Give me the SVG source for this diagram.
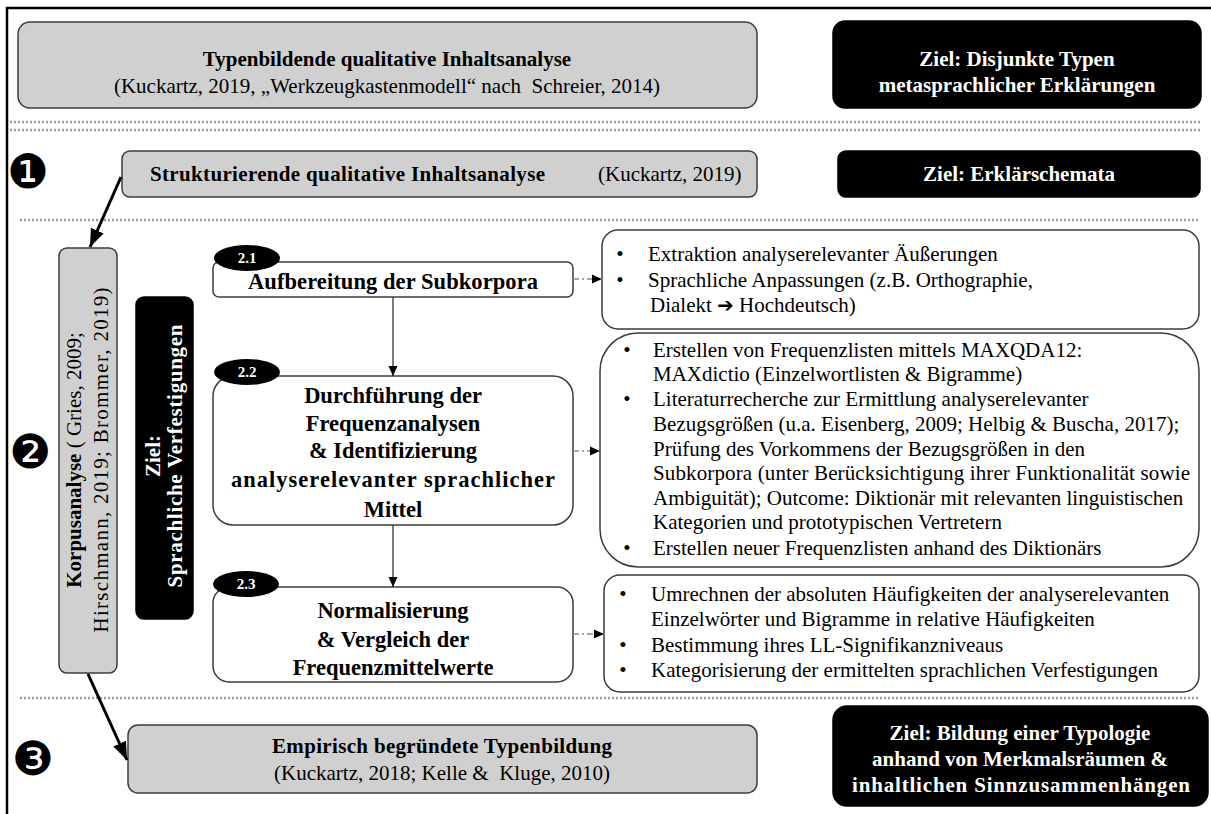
<svg xmlns="http://www.w3.org/2000/svg" width="1211" height="814" viewBox="0 0 1211 814">
  <defs>
    <style>
      .t { font-family: "Liberation Serif", "Times New Roman", serif; font-size: 21px; fill: #000; }
      .h { font-size: 22.5px; }
      .b { font-weight: bold; }
      .w { fill: #fff; }
      .c { text-anchor: middle; }
      .grey { fill: #d0d0d0; stroke: #3c3c3c; stroke-width: 1.5; }
      .dark { fill: #000; stroke: #000; stroke-width: 1.5; }
      .plain { fill: #fff; stroke: #3c3c3c; stroke-width: 1.5; }
      .sep { stroke: #9a9a9a; stroke-width: 2.5; stroke-dasharray: 2 2; fill: none; }
      .num { font-family: "DejaVu Sans", sans-serif; font-size: 47px; fill: #000; text-anchor: middle; }
      .tag { font-family: "Liberation Serif", serif; font-size: 15px; font-weight: bold; fill: #fff; text-anchor: middle; }
      .flow { stroke: #000; stroke-width: 3; fill: none; }
      .step { stroke: #333; stroke-width: 1.3; fill: none; }
      .link { stroke: #8a8a8a; stroke-width: 1.3; stroke-dasharray: 6 3 2 3; fill: none; }
    </style>
    <marker id="headBig" markerUnits="userSpaceOnUse" markerWidth="20" markerHeight="14" refX="18" refY="7" orient="auto">
      <path d="M0,0 L18,7 L0,14 Z" fill="#000"/>
    </marker>
    <marker id="headSmall" markerUnits="userSpaceOnUse" markerWidth="12" markerHeight="10" refX="10" refY="5" orient="auto">
      <path d="M0,0.5 L10,5 L0,9.5 Z" fill="#000"/>
    </marker>
  </defs>

  <rect width="1211" height="814" fill="#fff"/>
  <!-- outer frame (left and top edges) -->
  <path d="M7,814 V8 H1211" fill="none" stroke="#000" stroke-width="2.5"/>

  <!-- section separators -->
  <g id="separators">
    <line class="sep" x1="10" y1="122" x2="1200" y2="122"/>
    <line class="sep" x1="10" y1="130" x2="1200" y2="130"/>
    <line class="sep" x1="20" y1="220" x2="1200" y2="220"/>
    <line class="sep" x1="20" y1="698" x2="1200" y2="698"/>
  </g>

  <!-- step numbers -->
  <g id="step-numbers">
    <text class="num" x="28" y="188">❶</text>
    <text class="num" x="30" y="468">❷</text>
    <text class="num" x="33" y="775">❸</text>
  </g>

  <g id="method-main">
    <rect class="grey" x="18" y="22" width="739" height="86" rx="12"/>
    <text class="t b c" x="387" y="66">Typenbildende qualitative Inhaltsanalyse</text>
    <text class="t c" x="387" y="93" xml:space="preserve">(Kuckartz, 2019, „Werkzeugkastenmodell“ nach  Schreier, 2014)</text>
  </g>

  <g id="goal-main">
    <rect class="dark" x="833" y="21" width="368" height="87" rx="12"/>
    <text class="t b w c" x="1017" y="66">Ziel: Disjunkte Typen</text>
    <text class="t b w c" x="1017" y="92">metasprachlicher Erklärungen</text>
  </g>

  <g id="phase-1">
    <rect class="grey" x="122" y="151" width="635" height="46" rx="8"/>
    <text class="t" x="150" y="181"><tspan class="b" textLength="395" lengthAdjust="spacing">Strukturierende qualitative Inhaltsanalyse</tspan><tspan x="598">(Kuckartz, 2019)</tspan></text>
  </g>

  <g id="goal-1">
    <rect class="dark" x="838" y="151" width="362" height="46" rx="8"/>
    <text class="t b w c" x="1019" y="181">Ziel: Erklärschemata</text>
  </g>

  <g id="phase-2">
    <rect class="grey" x="59" y="248" width="58" height="425" rx="8"/>
    <g transform="translate(88,460) rotate(-90)">
      <text class="t c" x="0" y="-7" xml:space="preserve"><tspan class="b">Korpusanalyse</tspan> ( Gries, 2009;</text>
      <text class="t c" x="0" y="20" textLength="345" lengthAdjust="spacing">Hirschmann, 2019; Brommer, 2019)</text>
    </g>
  </g>

  <g id="goal-2">
    <rect class="dark" x="136" y="297" width="57" height="322" rx="8"/>
    <g transform="translate(164,456) rotate(-90)">
      <text class="t b w c" x="0" y="-4">Ziel:</text>
      <text class="t b w c" x="0" y="18" textLength="263" lengthAdjust="spacing">Sprachliche Verfestigungen</text>
    </g>
  </g>

  <g id="step-2-1">
    <rect class="plain" x="213" y="262" width="360" height="35" rx="6"/>
    <ellipse cx="247" cy="258" rx="33" ry="13" fill="#000"/>
    <text class="tag" x="247" y="263">2.1</text>
    <text class="t h b c" x="393" y="289" textLength="290" lengthAdjust="spacing">Aufbereitung der Subkorpora</text>
  </g>

  <g id="step-2-2">
    <rect class="plain" x="213" y="376" width="360" height="149" rx="20"/>
    <ellipse cx="247" cy="372" rx="33" ry="13" fill="#000"/>
    <text class="tag" x="247" y="377">2.2</text>
    <text class="t h b c" x="393" y="403">Durchführung der</text>
    <text class="t h b c" x="393" y="431">Frequenzanalysen</text>
    <text class="t h b c" x="393" y="458">&amp; Identifizierung</text>
    <text class="t h b c" x="393" y="487" textLength="324" lengthAdjust="spacing">analyserelevanter sprachlicher</text>
    <text class="t h b c" x="393" y="517">Mittel</text>
  </g>

  <g id="step-2-3">
    <rect class="plain" x="213" y="587" width="360" height="95" rx="16"/>
    <ellipse cx="246" cy="584" rx="33" ry="13" fill="#000"/>
    <text class="tag" x="246" y="589">2.3</text>
    <text class="t h b c" x="393" y="618">Normalisierung</text>
    <text class="t h b c" x="393" y="647">&amp; Vergleich der</text>
    <text class="t h b c" x="393" y="675">Frequenzmittelwerte</text>
  </g>

  <g id="detail-2-1">
    <rect class="plain" x="602" y="230" width="597" height="99" rx="16"/>
    <text class="t c" x="620" y="261">•</text>
    <text class="t c" x="620" y="287">•</text>
    <text class="t" x="648" y="261">Extraktion analyserelevanter Äußerungen</text>
    <text class="t" x="648" y="287">Sprachliche Anpassungen (z.B. Orthographie,</text>
    <text class="t" x="650" y="312">Dialekt <tspan font-family="DejaVu Sans" font-size="20" font-weight="bold">➔</tspan> Hochdeutsch)</text>
  </g>

  <g id="detail-2-2">
    <rect class="plain" x="600" y="333" width="599" height="234" rx="38"/>
    <text class="t c" x="627" y="357">•</text>
    <text class="t c" x="627" y="406">•</text>
    <text class="t c" x="627" y="555">•</text>
    <text class="t" x="653" y="357">Erstellen von Frequenzlisten mittels MAXQDA12:</text>
    <text class="t" x="653" y="381">MAXdictio (Einzelwortlisten &amp; Bigramme)</text>
    <text class="t" x="653" y="406">Literaturrecherche zur Ermittlung analyserelevanter</text>
    <text class="t" x="653" y="431">Bezugsgrößen (u.a. Eisenberg, 2009; Helbig &amp; Buscha, 2017);</text>
    <text class="t" x="653" y="456">Prüfung des Vorkommens der Bezugsgrößen in den</text>
    <text class="t" x="653" y="480" textLength="537" lengthAdjust="spacing">Subkorpora (unter Berücksichtigung ihrer Funktionalität sowie</text>
    <text class="t" x="653" y="505">Ambiguität); Outcome: Diktionär mit relevanten linguistischen</text>
    <text class="t" x="653" y="529">Kategorien und prototypischen Vertretern</text>
    <text class="t" x="653" y="555">Erstellen neuer Frequenzlisten anhand des Diktionärs</text>
  </g>

  <g id="detail-2-3">
    <rect class="plain" x="604" y="575" width="595" height="117" rx="16"/>
    <text class="t c" x="623" y="601">•</text>
    <text class="t c" x="623" y="652">•</text>
    <text class="t c" x="623" y="677">•</text>
    <text class="t" x="651" y="601">Umrechnen der absoluten Häufigkeiten der analyserelevanten</text>
    <text class="t" x="651" y="626">Einzelwörter und Bigramme in relative Häufigkeiten</text>
    <text class="t" x="651" y="652">Bestimmung ihres LL-Signifikanzniveaus</text>
    <text class="t" x="651" y="677">Kategorisierung der ermittelten sprachlichen Verfestigungen</text>
  </g>

  <g id="phase-3">
    <rect class="grey" x="128" y="725" width="629" height="68" rx="10"/>
    <text class="t b c" x="442" y="753" textLength="340" lengthAdjust="spacing">Empirisch begründete Typenbildung</text>
    <text class="t c" x="442" y="780" xml:space="preserve">(Kuckartz, 2018; Kelle &amp;  Kluge, 2010)</text>
  </g>

  <g id="goal-3">
    <rect class="dark" x="833" y="706" width="375" height="100" rx="14"/>
    <text class="t b w c" x="1020" y="740">Ziel: Bildung einer Typologie</text>
    <text class="t b w c" x="1020" y="766">anhand von Merkmalsräumen &amp;</text>
    <text class="t b w c" x="1021" y="792" textLength="338" lengthAdjust="spacing">inhaltlichen Sinnzusammenhängen</text>
  </g>

  <g id="connectors">
    <line class="flow" x1="121" y1="177" x2="90" y2="247" marker-end="url(#headBig)"/>
    <line class="flow" x1="88" y1="674" x2="127" y2="760" marker-end="url(#headBig)"/>
    <line class="step" x1="393" y1="297" x2="393" y2="376" marker-end="url(#headSmall)"/>
    <line class="step" x1="393" y1="525" x2="393" y2="587" marker-end="url(#headSmall)"/>
    <line class="link" x1="573" y1="279" x2="602" y2="279" marker-end="url(#headSmall)"/>
    <line class="link" x1="573" y1="451" x2="600" y2="451" marker-end="url(#headSmall)"/>
    <line class="link" x1="573" y1="634" x2="604" y2="634" marker-end="url(#headSmall)"/>
  </g>
</svg>
